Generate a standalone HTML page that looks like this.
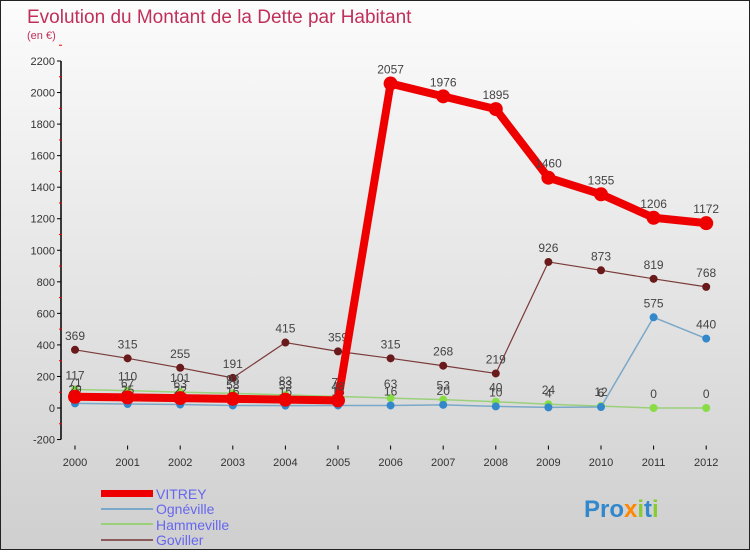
<!DOCTYPE html>
<html><head><meta charset="utf-8"><style>
html,body{margin:0;padding:0}
body{width:750px;height:550px;overflow:hidden;font-family:"Liberation Sans",sans-serif}
#wrap{position:relative;width:748px;height:548px;border:1px solid #222;background:linear-gradient(#fcfcfc,#cfcfcf)}
</style></head><body>
<div id="wrap">
<svg id="chart" width="748" height="548">
<text x="26" y="22" font-size="19" fill="#c0305a">Evolution du Montant de la Dette par Habitant</text>
<text x="26" y="38" font-size="11" fill="#c0305a">(en €)</text>
<g id="axes"></g><g id="series"></g>
<g>
<rect x="100" y="489" width="52" height="7" fill="#ee0000"/>
<text x="155" y="498" font-size="14" fill="#6666ee">VITREY</text>
<rect x="100" y="507" width="52" height="2" fill="#7aa8c8"/>
<text x="155" y="513" font-size="14" fill="#6666ee">Ognéville</text>
<rect x="100" y="522" width="52" height="2" fill="#9ad07a"/>
<text x="155" y="529" font-size="14" fill="#6666ee">Hammeville</text>
<rect x="100" y="538" width="52" height="2" fill="#8b5a5a"/>
<text x="155" y="544" font-size="14" fill="#6666ee">Goviller</text>
</g>
<text x="583" y="516" font-size="24" font-weight="bold" fill="#3388cc">Pro<tspan fill="#ff8800">x</tspan><tspan fill="#88cc33">i</tspan>t<tspan fill="#88cc33">i</tspan></text>
</svg>
</div>
<script>
const years=["2000","2001","2002","2003","2004","2005","2006","2007","2008","2009","2010","2011","2012"];
const yTicks=[-200,0,200,400,600,800,1000,1200,1400,1600,1800,2000,2200];
const vitrey=[71,67,63,58,53,48,2057,1976,1895,1460,1355,1206,1172];
const ogneville=[29,25,22,16,15,16,16,20,10,4,6,575,440];
const hammeville=[117,110,101,93,83,73,63,53,40,24,12,0,0];
const goviller=[369,315,255,191,415,359,315,268,219,926,873,819,768];
const NS="http://www.w3.org/2000/svg";
function xS(i){return 74+i*52.6;}
function yS(v){return 407-v*(347/2200);}
function mk(t,a,p){const e=document.createElementNS(NS,t);for(const k in a)e.setAttribute(k,a[k]);p.appendChild(e);return e;}
const ax=document.getElementById('axes');
let l=mk('line',{x1:60,y1:yS(2200),x2:60,y2:yS(-200),stroke:'#000','stroke-width':1.5},ax);


yTicks.forEach(v=>{
 mk('line',{x1:56,y1:yS(v),x2:60,y2:yS(v),stroke:'#000'},ax);
 mk('line',{x1:58,y1:yS(v+100),x2:61,y2:yS(v+100),stroke:'#e00'},ax);
 const t=mk('text',{x:54,y:yS(v)+4,'font-size':11,'text-anchor':'end',fill:'#333'},ax);t.textContent=v;
 
 
});
years.forEach((y,i)=>{
 mk('line',{x1:xS(i),y1:yS(-200)+6,x2:xS(i),y2:yS(-200)+10,stroke:'#000'},ax);
 const t=mk('text',{x:xS(i),y:465,'font-size':11,'text-anchor':'middle',fill:'#333'},ax);t.textContent=y;
 
 
});
const sg=document.getElementById('series');
function draw(data,color,w,r,name,dot){
 const g=mk('g',{},sg);
 
 
 mk('polyline',{points:data.map((v,i)=>xS(i)+','+yS(v)).join(' '),fill:'none',stroke:color,'stroke-width':w,'stroke-linejoin':'round'},g);
 data.forEach((v,i)=>{
  const c=mk('circle',{cx:xS(i),cy:yS(v),r:r,fill:dot},g);
  
  
  const t=mk('text',{x:xS(i),y:yS(v)-10,'font-size':12,'text-anchor':'middle',fill:'#444'},g);t.textContent=v;
  
  
 });
}
draw(goviller,'#7a3a3a',1.2,4,'goviller','#6a1a1a');
draw(hammeville,'#9ad07a',1.5,4,'hammeville','#88dd44');
draw(ogneville,'#7aa8c8',1.5,4,'ogneville','#3388cc');
draw(vitrey,'#ee0000',8,7,'vitrey','#ee0000');
</script>
</body></html>
